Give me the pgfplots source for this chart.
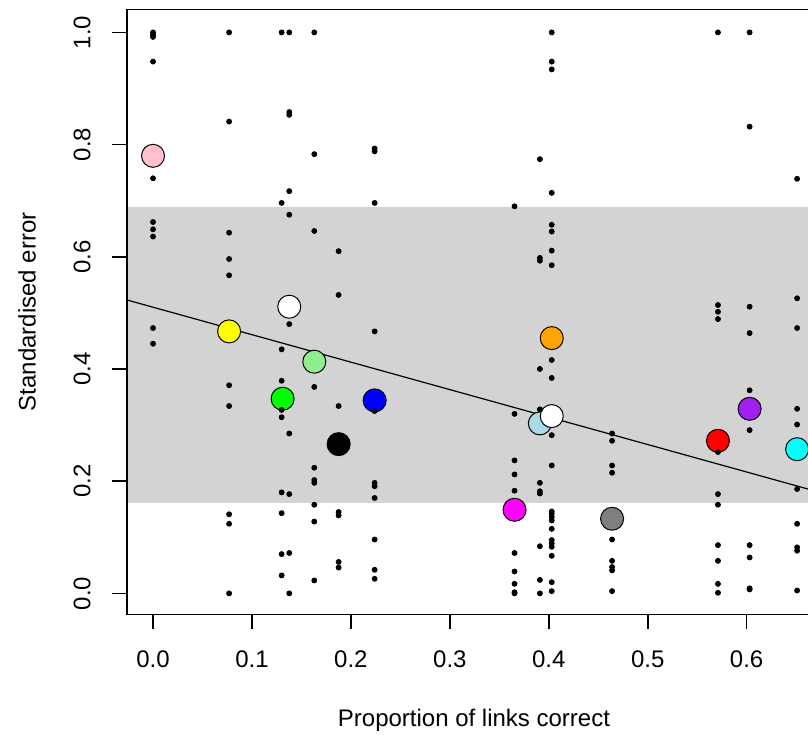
\documentclass[border=0pt,12pt]{standalone}
\usepackage{fontspec}
\setmainfont{Liberation Sans}
\usepackage{pgfplots}
\pgfplotsset{compat=1.18}

\definecolor{bandgray}{RGB}{211,211,211}
\definecolor{rpink}{RGB}{255,192,203}
\definecolor{ryellow}{RGB}{255,255,0}
\definecolor{rgreen}{RGB}{0,255,0}
\definecolor{rlightgreen}{RGB}{144,238,144}
\definecolor{rblue}{RGB}{0,0,255}
\definecolor{rmagenta}{RGB}{255,0,255}
\definecolor{rlightblue}{RGB}{173,216,230}
\definecolor{rorange}{RGB}{255,165,0}
\definecolor{rgray}{RGB}{128,128,128}
\definecolor{rred}{RGB}{255,0,0}
\definecolor{rpurple}{RGB}{160,32,240}
\definecolor{rcyan}{RGB}{0,255,255}

\pgfplotsset{
  big/.style={only marks, mark=*, mark size=5.75pt, mark options={draw=black, line width=0.5pt, fill=#1}},
  dots/.style={only marks, mark=*, mark size=1.25pt, black},
}

\begin{document}
\begin{tikzpicture}
\begin{axis}[
  scale only axis, width=340.5pt, height=302.5pt,
  xmin=-0.0263, xmax=0.662, ymin=-0.0375, ymax=1.041,
  clip=false,
  axis line style={draw=none},
  tick align=outside, tick pos=left,
  major tick length=7.5pt,
  every tick/.style={black, line width=0.8pt},
  xtick={0,0.1,0.2,0.3,0.4,0.5,0.6},
  ytick={0,0.2,0.4,0.6,0.8,1.0},
  scaled ticks=false,
  /pgf/number format/fixed, /pgf/number format/fixed zerofill,
  /pgf/number format/precision=1, /pgf/number format/assume math mode=true,
  xticklabel style={anchor=center, yshift=-15pt},
  yticklabel style={xshift=-15pt, rotate=90, anchor=center},
  xlabel={Proportion of links correct},
  ylabel={Standardised error},
  xlabel style={at={(axis description cs:0.5095,-0.1256)}, anchor=center, yshift=-15pt},
  ylabel style={at={(axis description cs:-0.1468,0.5)}, anchor=center},
]
% shaded band
\addplot[draw=none, fill=bandgray] coordinates {(-0.0263,0.161) (0.662,0.161) (0.662,0.689) (-0.0263,0.689)} -- cycle;
% fitted line
\addplot[black, line width=0.6pt, no marks] coordinates {(-0.0263,0.523) (0.662,0.186)};
% group means
\addplot[big=rpink] coordinates {(0.0,0.780)};
\addplot[big=ryellow] coordinates {(0.0769,0.467)};
\addplot[big=white] coordinates {(0.1377,0.511)};
\addplot[big=rgreen] coordinates {(0.131,0.347)};
\addplot[big=rlightgreen] coordinates {(0.163,0.413)};
\addplot[big=black] coordinates {(0.1876,0.266)};
\addplot[big=rblue] coordinates {(0.224,0.344)};
\addplot[big=rmagenta] coordinates {(0.3654,0.149)};
\addplot[big=rlightblue] coordinates {(0.391,0.303)};
\addplot[big=white] coordinates {(0.403,0.316)};
\addplot[big=rorange] coordinates {(0.403,0.455)};
\addplot[big=rgray] coordinates {(0.464,0.133)};
\addplot[big=rred] coordinates {(0.571,0.272)};
\addplot[big=rpurple] coordinates {(0.603,0.329)};
\addplot[big=rcyan] coordinates {(0.651,0.257)};
% individual values
\addplot[dots] coordinates {
(0,1.0) (0,0.996) (0,0.992) (0,0.948) (0,0.740) (0,0.662) (0,0.649) (0,0.636) (0,0.473) (0,0.445)
(0.0769,1.0) (0.0769,0.841) (0.0769,0.643) (0.0769,0.596) (0.0769,0.567) (0.0769,0.371) (0.0769,0.334) (0.0769,0.141) (0.0769,0.124) (0.0769,0.0)
(0.130,1.0) (0.130,0.696) (0.130,0.435) (0.130,0.379) (0.130,0.327) (0.130,0.314) (0.130,0.180) (0.130,0.143) (0.130,0.070) (0.130,0.032)
(0.1377,1.0) (0.1377,0.858) (0.1377,0.853) (0.1377,0.717) (0.1377,0.675) (0.1377,0.480) (0.1377,0.285) (0.1377,0.177) (0.1377,0.072) (0.1377,0.0)
(0.163,1.0) (0.163,0.783) (0.163,0.646) (0.163,0.368) (0.163,0.224) (0.163,0.202) (0.163,0.197) (0.163,0.158) (0.163,0.128) (0.163,0.023)
(0.1876,0.610) (0.1876,0.532) (0.1876,0.334) (0.1876,0.145) (0.1876,0.139) (0.1876,0.056) (0.1876,0.046)
(0.224,0.793) (0.224,0.788) (0.224,0.696) (0.224,0.467) (0.224,0.325) (0.224,0.197) (0.224,0.191) (0.224,0.170) (0.224,0.096) (0.224,0.042) (0.224,0.026)
(0.3654,0.690) (0.3654,0.320) (0.3654,0.237) (0.3654,0.212) (0.3654,0.183) (0.3654,0.072) (0.3654,0.039) (0.3654,0.017) (0.3654,0.002) (0.3654,0.0)
(0.391,0.774) (0.391,0.598) (0.391,0.593) (0.391,0.400) (0.391,0.328) (0.391,0.197) (0.391,0.182) (0.391,0.178) (0.391,0.084) (0.391,0.024) (0.391,0.0)
(0.403,1.0) (0.403,0.948) (0.403,0.934) (0.403,0.714) (0.403,0.657) (0.403,0.645) (0.403,0.611) (0.403,0.585) (0.403,0.416) (0.403,0.384) (0.403,0.282) (0.403,0.228)
(0.403,0.146) (0.403,0.142) (0.403,0.136) (0.403,0.130) (0.403,0.115) (0.403,0.095) (0.403,0.089) (0.403,0.083) (0.403,0.067) (0.403,0.020) (0.403,0.004)
(0.464,0.285) (0.464,0.272) (0.464,0.228) (0.464,0.215) (0.464,0.096) (0.464,0.058) (0.464,0.047) (0.464,0.041) (0.464,0.004)
(0.571,1.0) (0.571,0.514) (0.571,0.502) (0.571,0.489) (0.571,0.252) (0.571,0.177) (0.571,0.158) (0.571,0.086) (0.571,0.058) (0.571,0.017) (0.571,0.001)
(0.603,1.0) (0.603,0.832) (0.603,0.511) (0.603,0.464) (0.603,0.362) (0.603,0.291) (0.603,0.086) (0.603,0.064) (0.603,0.009) (0.603,0.007)
(0.651,0.739) (0.651,0.526) (0.651,0.473) (0.651,0.329) (0.651,0.301) (0.651,0.186) (0.651,0.124) (0.651,0.082) (0.651,0.076) (0.651,0.005)
};
% open box (right side cut off)
\draw[black, line width=0.8pt] (rel axis cs:1,1) -- (rel axis cs:0,1) -- (rel axis cs:0,0) -- (rel axis cs:1,0);
\end{axis}
\pgfresetboundingbox
\useasboundingbox ([xshift=-63.5pt,yshift=-60pt]current axis.south west) rectangle ([yshift=4.7pt]current axis.north east);
\end{tikzpicture}
\end{document}
